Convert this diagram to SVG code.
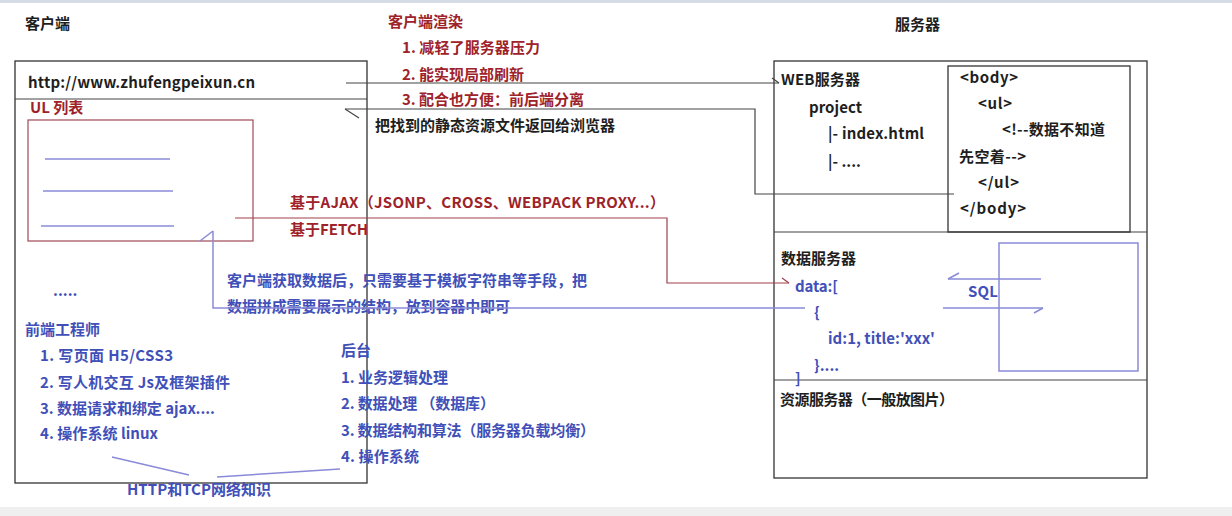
<svg xmlns="http://www.w3.org/2000/svg" width="1232" height="516" viewBox="0 0 1232 516">
<style>
text{font-family:"Noto Sans CJK SC","Microsoft YaHei",sans-serif;font-weight:bold;font-size:15px}
.k{fill:#1e1e1e}
.r{fill:#9e2229}
.b{fill:#4150b8}
.box{fill:none;stroke:#333;stroke-width:1.3}
.ln{fill:none;stroke:#444;stroke-width:1.2}
.rl{fill:none;stroke:#a0404c;stroke-width:1.2}
.bl{fill:none;stroke:#8a8ad8;stroke-width:1.5}
</style>
<rect x="0" y="0" width="1232" height="516" fill="#fff"/>
<rect x="0" y="0" width="1232" height="3" fill="#d5dce5"/>
<rect x="0" y="507" width="1232" height="9" fill="#efefef"/>

<g id="client">
<text class="k" x="25" y="29">客户端</text>
<rect class="box" x="15" y="61" width="352" height="422"/>
<line class="ln" x1="15" y1="99" x2="367" y2="99"/>
<text class="k" x="28" y="88" textLength="227">http://www.zhufengpeixun.cn</text>
<text class="r" x="30" y="113">UL 列表</text>
</g>

<g id="ul-list">
<rect x="28" y="120" width="225" height="121" fill="none" stroke="#a04a55" stroke-width="1.2"/>
<line class="bl" x1="45" y1="159" x2="170" y2="159"/>
<line class="bl" x1="43" y1="191" x2="173" y2="191"/>
<line class="bl" x1="41" y1="226" x2="174" y2="226"/>
<text class="b" x="53" y="296">.....</text>
</g>

<g id="render-notes">
<text class="r" x="388" y="27">客户端渲染</text>
<text class="r" x="402" y="53" textLength="138">1. 减轻了服务器压力</text>
<text class="r" x="402" y="80" textLength="122">2. 能实现局部刷新</text>
<text class="r" x="402" y="105" textLength="182">3. 配合也方便：前后端分离</text>
</g>

<g id="frontend">
<text class="b" x="25" y="335">前端工程师</text>
<text class="b" x="40" y="361" textLength="133">1. 写页面 H5/CSS3</text>
<text class="b" x="40" y="388" textLength="190">2. 写人机交互  Js及框架插件</text>
<text class="b" x="40" y="414" textLength="175">3. 数据请求和绑定 ajax....</text>
<text class="b" x="40" y="439" textLength="118">4. 操作系统 linux</text>
</g>

<g id="backend">
<text class="b" x="341" y="356">后台</text>
<text class="b" x="341" y="383" textLength="107">1. 业务逻辑处理</text>
<text class="b" x="341" y="409" textLength="154">2. 数据处理 （数据库）</text>
<text class="b" x="341" y="436" textLength="254">3. 数据结构和算法（服务器负载均衡）</text>
<text class="b" x="341" y="462" textLength="78">4. 操作系统</text>
</g>

<g id="network">
<line class="bl" x1="112" y1="457" x2="189" y2="475"/>
<line class="bl" x1="217" y1="477" x2="340" y2="469"/>
<text class="b" x="127" y="495" textLength="144">HTTP和TCP网络知识</text>
</g>

<g id="server">
<text class="k" x="895" y="30">服务器</text>
<rect class="box" x="774" y="61" width="373" height="417"/>
<line class="ln" x1="774" y1="232" x2="1147" y2="232"/>
<line class="ln" x1="774" y1="380" x2="1147" y2="380"/>
</g>

<g id="web-server">
<text class="k" x="781" y="85" textLength="79">WEB服务器</text>
<text class="k" x="809" y="113" textLength="53">project</text>
<text class="k" x="828" y="139" textLength="96">|- index.html</text>
<text class="k" x="828" y="167">|- ....</text>
</g>

<g id="html-body">
<rect class="box" x="948" y="66" width="182" height="166"/>
<text class="k" x="960" y="83" textLength="58">&lt;body&gt;</text>
<text class="k" x="978" y="109" textLength="34">&lt;ul&gt;</text>
<text class="k" x="1002" y="135" textLength="103">&lt;!--数据不知道</text>
<text class="k" x="959" y="162" textLength="67">先空着--&gt;</text>
<text class="k" x="978" y="188" textLength="41">&lt;/ul&gt;</text>
<text class="k" x="960" y="214" textLength="66">&lt;/body&gt;</text>
</g>

<g id="data-server">
<text class="k" x="781" y="264">数据服务器</text>
<text class="b" x="795" y="292" textLength="43">data:[</text>
<text class="b" x="814" y="318">{</text>
<text class="b" x="828" y="344" textLength="107">id:1, title:'xxx'</text>
<text class="b" x="814" y="371">}....</text>
<text class="b" x="795" y="384">]</text>
</g>

<g id="database">
<rect x="999" y="243" width="139" height="128" fill="none" stroke="#8a8ad8" stroke-width="1.5"/>
<text class="b" x="968" y="297" textLength="30">SQL</text>
</g>

<g id="resource-server">
<text class="k" x="780" y="405" textLength="174">资源服务器（一般放图片）</text>
</g>

<g id="labels">
<text class="k" x="375" y="131">把找到的静态资源文件返回给浏览器</text>
<text class="r" x="290" y="208" textLength="375">基于AJAX（JSONP、CROSS、WEBPACK PROXY...）</text>
<text class="r" x="290" y="235">基于FETCH</text>
<text class="b" x="227" y="286">客户端获取数据后，只需要基于模板字符串等手段，把</text>
<text class="b" x="227" y="312" textLength="283">数据拼成需要展示的结构，放到容器中即可</text>
</g>

<g id="connectors">
<polyline class="ln" points="346,83 779,83"/>
<polyline class="ln" points="772,78 779,83"/>
<polyline class="ln" points="954,194 755,194 755,109 345,109"/>
<polyline class="ln" points="345,109 359,118"/>
<polyline class="rl" points="235,218 667,218 667,283 789,283"/>
<polyline class="rl" points="782,278 789,283"/>
<polyline class="bl" points="805,308 213,308 213,231"/>
<polyline class="bl" points="213,231 200,241"/>
<polyline class="bl" points="1041,279 948,279"/>
<polyline class="bl" points="948,279 959,273"/>
<polyline class="bl" points="943,308 1043,308"/>
<polyline class="bl" points="1043,308 1034,313"/>
</g>
</svg>
